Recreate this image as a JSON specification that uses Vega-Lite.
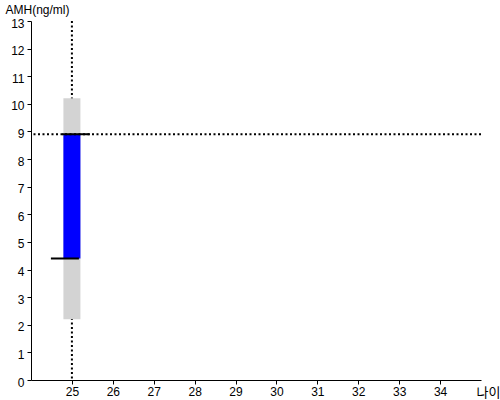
{
  "$schema": "https://vega.github.io/schema/vega-lite/v6.json",
  "width": 450,
  "height": 359,
  "autosize": {"type": "none"},
  "padding": {"left": 31, "top": 21, "right": 19, "bottom": 20},
  "background": "white",
  "config": {
    "view": {"stroke": null},
    "font": "Liberation Sans",
    "axis": {
      "grid": false,
      "domainColor": "black",
      "domainWidth": 1,
      "tickColor": "black",
      "tickSize": 4,
      "labelColor": "black",
      "labelFont": "Liberation Sans",
      "labelFontSize": 12,
      "labelOverlap": false,
      "titleColor": "black",
      "titleFontWeight": "normal"
    },
    "axisY": {"labelOffset": 2, "labelPadding": 3}
  },
  "data": {"values": [{"age": 25, "min": 2.2, "q1": 4.4, "value": 8.9, "max": 10.2}]},
  "encoding": {
    "x": {
      "field": "age",
      "type": "quantitative",
      "scale": {"domain": [24, 35], "nice": false, "zero": false, "padding": 0},
      "axis": {
        "values": [25, 26, 27, 28, 29, 30, 31, 32, 33, 34],
        "labelPadding": 2,
        "title": "나이",
        "titleFont": "Noto Sans CJK KR",
        "titleFontSize": 13,
        "titleAngle": 0,
        "titleAlign": "left",
        "titleBaseline": "middle",
        "titleX": 445,
        "titleY": 12
      }
    }
  },
  "layer": [
    {
      "mark": {"type": "rule", "color": "black", "strokeWidth": 2, "strokeDash": [2, 2.5]},
      "encoding": {}
    },
    {
      "mark": {"type": "bar", "color": "#d3d3d3", "size": 17},
      "encoding": {
        "y": {
          "field": "min",
          "type": "quantitative",
          "scale": {"domain": [0, 13], "nice": false, "padding": 0},
          "axis": {
            "values": [0, 1, 2, 3, 4, 5, 6, 7, 8, 9, 10, 11, 12, 13],
            "title": "AMH(ng/ml)",
            "titleFontSize": 12,
            "titleAngle": 0,
            "titleAlign": "left",
            "titleBaseline": "alphabetic",
            "titleX": -26,
            "titleY": -8
          }
        },
        "y2": {"field": "max"}
      }
    },
    {
      "mark": {"type": "bar", "color": "#0000ff", "size": 17},
      "encoding": {
        "y": {"field": "q1", "type": "quantitative", "axis": {
            "values": [0, 1, 2, 3, 4, 5, 6, 7, 8, 9, 10, 11, 12, 13],
            "title": "AMH(ng/ml)",
            "titleFontSize": 12,
            "titleAngle": 0,
            "titleAlign": "left",
            "titleBaseline": "alphabetic",
            "titleX": -26,
            "titleY": -8
          }},
        "y2": {"field": "value"}
      }
    },
    {
      "mark": {"type": "rule", "color": "black", "strokeWidth": 2, "strokeDash": [2, 2.5]},
      "encoding": {
        "x": null,
        "y": {"field": "value", "type": "quantitative", "axis": {
            "values": [0, 1, 2, 3, 4, 5, 6, 7, 8, 9, 10, 11, 12, 13],
            "title": "AMH(ng/ml)",
            "titleFontSize": 12,
            "titleAngle": 0,
            "titleAlign": "left",
            "titleBaseline": "alphabetic",
            "titleX": -26,
            "titleY": -8
          }}
      }
    },
    {
      "mark": {"type": "tick", "color": "black", "opacity": 1, "orient": "horizontal", "size": 28, "thickness": 2, "xOffset": -7},
      "encoding": {
        "y": {"field": "q1", "type": "quantitative", "axis": {
            "values": [0, 1, 2, 3, 4, 5, 6, 7, 8, 9, 10, 11, 12, 13],
            "title": "AMH(ng/ml)",
            "titleFontSize": 12,
            "titleAngle": 0,
            "titleAlign": "left",
            "titleBaseline": "alphabetic",
            "titleX": -26,
            "titleY": -8
          }}
      }
    },
    {
      "mark": {"type": "tick", "color": "black", "opacity": 1, "orient": "horizontal", "size": 28, "thickness": 2, "xOffset": 4},
      "encoding": {
        "y": {"field": "value", "type": "quantitative", "axis": {
            "values": [0, 1, 2, 3, 4, 5, 6, 7, 8, 9, 10, 11, 12, 13],
            "title": "AMH(ng/ml)",
            "titleFontSize": 12,
            "titleAngle": 0,
            "titleAlign": "left",
            "titleBaseline": "alphabetic",
            "titleX": -26,
            "titleY": -8
          }}
      }
    }
  ]
}
